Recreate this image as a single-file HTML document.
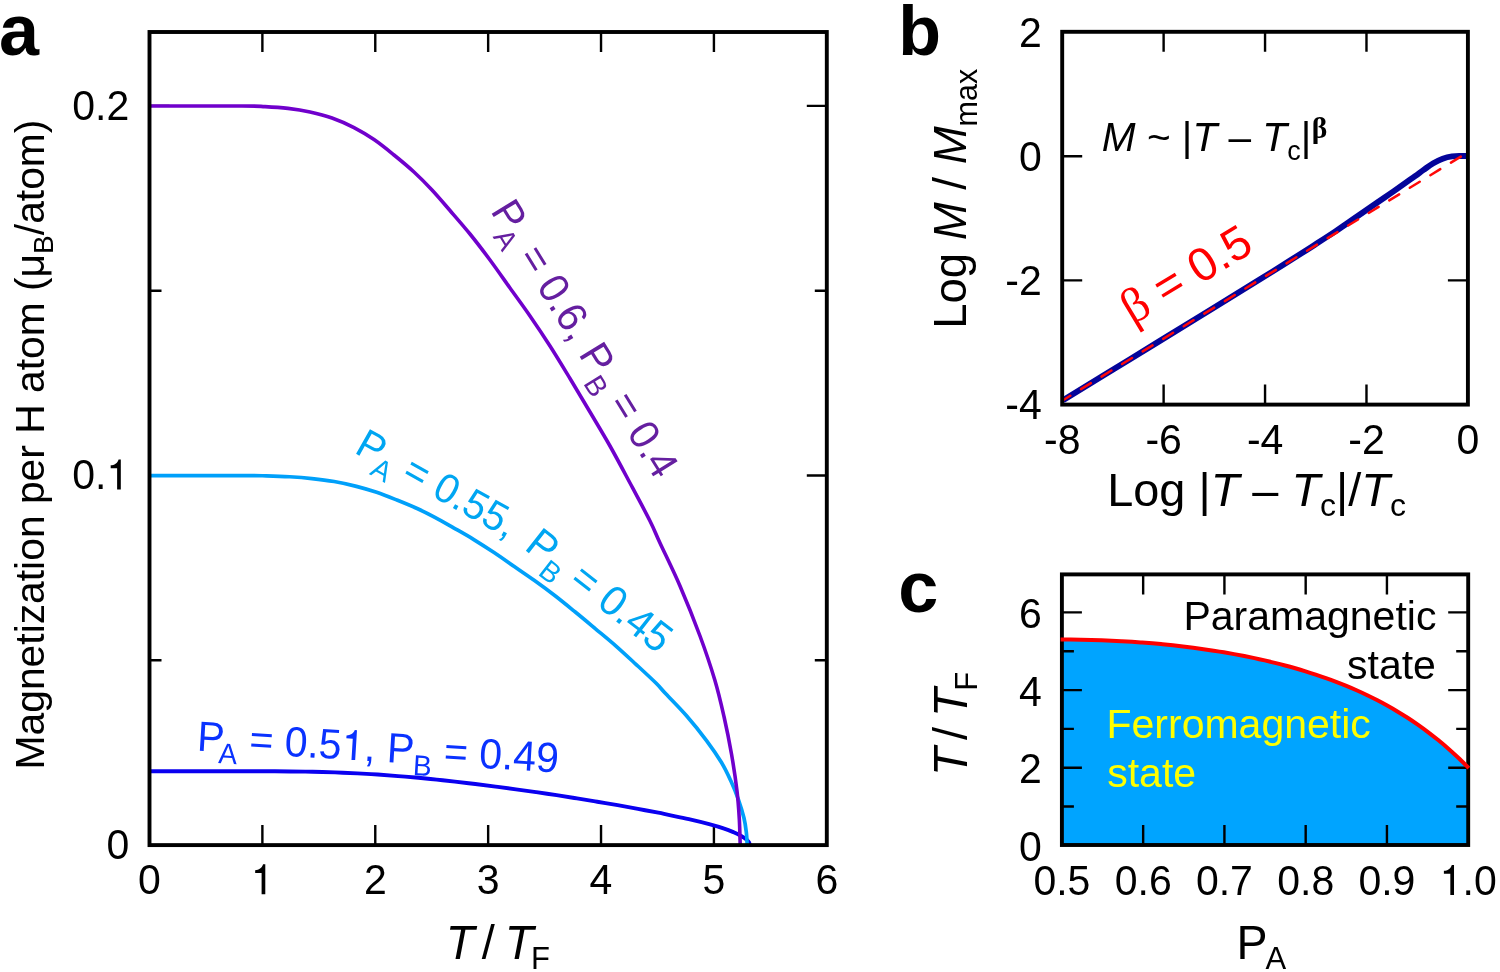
<!DOCTYPE html>
<html><head><meta charset="utf-8"><title>figure</title>
<style>html,body{margin:0;padding:0;background:#fff}svg{display:block;will-change:transform}text{font-family:"Liberation Sans",sans-serif;fill:#000}.it{font-style:italic}.b{font-weight:bold}.se{font-family:"Liberation Serif",serif}</style></head><body>
<svg width="1500" height="972" viewBox="0 0 1500 972">
<rect width="1500" height="972" fill="#fff"/>
<g id="pa">
<path d="M262.38 32.00 v20 M262.38 845.10 v-20 M375.27 32.00 v20 M375.27 845.10 v-20 M488.15 32.00 v20 M488.15 845.10 v-20 M601.03 32.00 v20 M601.03 845.10 v-20 M713.92 32.00 v20 M713.92 845.10 v-20 M149.50 660.30 h12 M826.80 660.30 h-12 M149.50 475.50 h20 M826.80 475.50 h-20 M149.50 290.70 h12 M826.80 290.70 h-12 M149.50 105.90 h20 M826.80 105.90 h-20" stroke="#000" stroke-width="2.4" fill="none"/>
<path d="M149.50 771.19 C165.17 771.19 223.97 771.18 243.53 771.19 C263.10 771.20 259.12 771.21 266.92 771.25 C274.71 771.29 282.67 771.34 290.30 771.43 C297.92 771.52 305.21 771.63 312.66 771.79 C320.12 771.95 327.57 772.13 335.03 772.39 C342.48 772.65 350.28 772.99 357.39 773.35 C364.51 773.71 370.95 774.09 377.72 774.55 C384.50 775.01 391.28 775.55 398.06 776.09 C404.83 776.63 411.95 777.21 418.39 777.79 C424.83 778.37 430.59 778.95 436.69 779.59 C442.79 780.23 448.55 780.91 454.99 781.64 C461.42 782.37 468.54 783.16 475.32 783.99 C482.09 784.82 488.87 785.69 495.65 786.59 C502.43 787.49 509.20 788.46 515.98 789.39 C522.76 790.32 529.54 791.22 536.31 792.19 C543.09 793.16 549.87 794.15 556.64 795.19 C563.42 796.23 570.20 797.34 576.98 798.44 C583.75 799.54 590.53 800.67 597.31 801.79 C604.09 802.92 610.86 804.01 617.64 805.19 C624.42 806.37 631.19 807.64 637.97 808.89 C644.75 810.14 653.22 811.69 658.30 812.69 C663.39 813.69 663.39 813.81 668.47 814.89 C673.55 815.97 682.02 817.64 688.80 819.19 C695.58 820.74 703.24 822.62 709.13 824.19 C715.03 825.76 720.10 827.24 724.18 828.59 C728.26 829.94 730.80 831.06 733.63 832.29 C736.46 833.52 738.97 834.76 741.16 835.99 C743.34 837.22 745.43 838.61 746.75 839.69 C748.07 840.77 748.54 841.59 749.09 842.49 C749.63 843.39 749.85 844.66 750.00 845.10" fill="none" stroke="#0a00f0" stroke-width="3.9" stroke-linejoin="round"/>
<path d="M149.50 475.55 C165.10 475.55 223.62 475.50 243.10 475.55 C262.57 475.60 258.61 475.65 266.37 475.85 C274.13 476.05 282.05 476.30 289.64 476.75 C297.23 477.20 304.48 477.75 311.90 478.55 C319.32 479.35 326.74 480.25 334.16 481.55 C341.58 482.85 349.34 484.55 356.42 486.35 C363.51 488.15 369.91 490.07 376.66 492.35 C383.41 494.63 390.15 497.35 396.90 500.05 C403.64 502.75 410.73 505.63 417.13 508.55 C423.54 511.47 429.28 514.34 435.35 517.55 C441.42 520.76 447.15 524.13 453.56 527.80 C459.97 531.47 467.05 535.42 473.80 539.55 C480.54 543.67 487.29 548.05 494.04 552.55 C500.78 557.05 507.53 561.88 514.27 566.55 C521.02 571.22 527.76 575.72 534.51 580.55 C541.25 585.38 548.00 590.34 554.75 595.55 C561.49 600.76 568.24 606.30 574.98 611.80 C581.73 617.30 588.47 622.93 595.22 628.55 C601.97 634.18 608.71 639.63 615.46 645.55 C622.20 651.47 628.95 657.80 635.69 664.05 C642.44 670.30 650.87 678.05 655.93 683.05 C660.99 688.05 660.99 688.63 666.05 694.05 C671.11 699.47 679.54 707.80 686.29 715.55 C693.03 723.30 700.65 732.72 706.52 740.55 C712.39 748.38 717.43 755.80 721.50 762.55 C725.56 769.30 728.09 774.88 730.91 781.05 C733.73 787.22 736.22 793.38 738.40 799.55 C740.57 805.72 742.65 812.63 743.96 818.05 C745.28 823.47 745.75 827.54 746.29 832.05 C746.83 836.56 747.05 842.92 747.20 845.10" fill="none" stroke="#00a0fa" stroke-width="3.7" stroke-linejoin="round"/>
<path d="M149.50 106.00 C164.92 106.00 222.75 105.90 242.00 106.00 C261.25 106.10 257.33 106.20 265.00 106.60 C272.67 107.00 280.50 107.50 288.00 108.40 C295.50 109.30 302.67 110.40 310.00 112.00 C317.33 113.60 324.67 115.40 332.00 118.00 C339.33 120.60 347.00 124.00 354.00 127.60 C361.00 131.20 367.33 135.03 374.00 139.60 C380.67 144.17 387.33 149.60 394.00 155.00 C400.67 160.40 407.67 166.17 414.00 172.00 C420.33 177.83 426.00 183.58 432.00 190.00 C438.00 196.42 443.67 203.17 450.00 210.50 C456.33 217.83 463.33 225.75 470.00 234.00 C476.67 242.25 483.33 251.00 490.00 260.00 C496.67 269.00 503.33 278.67 510.00 288.00 C516.67 297.33 523.33 306.33 530.00 316.00 C536.67 325.67 543.33 335.58 550.00 346.00 C556.67 356.42 563.33 367.50 570.00 378.50 C576.67 389.50 583.33 400.75 590.00 412.00 C596.67 423.25 603.33 434.17 610.00 446.00 C616.67 457.83 623.33 470.50 630.00 483.00 C636.67 495.50 645.00 511.00 650.00 521.00 C655.00 531.00 655.00 532.17 660.00 543.00 C665.00 553.83 673.33 570.50 680.00 586.00 C686.67 601.50 694.20 620.33 700.00 636.00 C705.80 651.67 710.78 666.50 714.80 680.00 C718.82 693.50 721.32 704.67 724.10 717.00 C726.88 729.33 729.35 741.67 731.50 754.00 C733.65 766.33 735.70 780.17 737.00 791.00 C738.30 801.83 738.77 810.00 739.30 819.00 C739.83 828.00 740.05 840.67 740.20 845.00" fill="none" stroke="#7000cc" stroke-width="3.6" stroke-linejoin="round"/>
<rect x="149.50" y="32.00" width="677.30" height="813.10" fill="none" stroke="#000" stroke-width="3.9"/>
<text transform="translate(149.5 894.3) scale(1 1.03)" font-size="41" text-anchor="middle">0</text>
<path transform="translate(250.99 894.30) scale(41.000 -42.230)" d="M0.349 0H0.259V0.502H0.102V0.571C0.19 0.575 0.27 0.62 0.295 0.709H0.349Z" fill="#000"/>
<text transform="translate(375.3 894.3) scale(1 1.03)" font-size="41" text-anchor="middle">2</text>
<text transform="translate(488.1 894.3) scale(1 1.03)" font-size="41" text-anchor="middle">3</text>
<text transform="translate(601.0 894.3) scale(1 1.03)" font-size="41" text-anchor="middle">4</text>
<text transform="translate(713.9 894.3) scale(1 1.03)" font-size="41" text-anchor="middle">5</text>
<text transform="translate(826.8 894.3) scale(1 1.03)" font-size="41" text-anchor="middle">6</text>
<text transform="translate(129.3 859.2) scale(1 1.03)" font-size="41" text-anchor="end">0</text>
<text transform="translate(72.31 489.4) scale(1 1.03)" font-size="41">0.</text>
<path transform="translate(106.50 489.40) scale(41.000 -42.230)" d="M0.349 0H0.259V0.502H0.102V0.571C0.19 0.575 0.27 0.62 0.295 0.709H0.349Z" fill="#000"/>
<text transform="translate(129.3 120.2) scale(1 1.03)" font-size="41" text-anchor="end">0.2</text>
<text transform="translate(43.8 444.5) rotate(-90)" font-size="40.8" text-anchor="middle">Magnetization per H atom (μ<tspan font-size="28" dy="9.5">B</tspan><tspan dy="-9.5">/atom)</tspan></text>
<g transform="translate(445.8 958.8) scale(1 1.04)"><text x="0" y="0" font-size="47" class="it">T</text><text x="36" y="0" font-size="47">/</text><text x="59" y="0" font-size="47" class="it">T</text><text x="85.3" y="9.8" font-size="31">F</text></g>
<text transform="translate(196.4 750.4) rotate(3.5) scale(1 1.03)" font-size="41" style="fill:#0a32ff"><tspan>P</tspan><tspan font-size="28" dy="11" dx="-5">A</tspan><tspan dy="-11"> = 0.5<tspan style="fill:none">1</tspan>, </tspan><tspan>P</tspan><tspan font-size="28" dy="11" dx="-0.5">B</tspan><tspan dy="-11"> = 0.49</tspan></text>
<g transform="translate(196.4 750.4) rotate(3.5)"><path transform="translate(144.75 0.00) scale(41.000 -42.230)" d="M0.349 0H0.259V0.502H0.102V0.571C0.19 0.575 0.27 0.62 0.295 0.709H0.349Z" fill="#0a32ff"/></g>
<text transform="translate(353.3 452.2) rotate(29.3) scale(1 1.03)" font-size="40" style="fill:#00a6f2"><tspan>P</tspan><tspan font-size="28" dy="11" dx="-2.5">A</tspan><tspan dy="-11"> = 0.55,</tspan></text>
<text transform="translate(523.2 548.7) rotate(38.1) scale(1 1.03)" font-size="41" style="fill:#00a6f2"><tspan>P</tspan><tspan font-size="28" dy="11" dx="-1">B</tspan><tspan dy="-11"> = 0.45</tspan></text>
<text transform="translate(490.0 211.1) rotate(58.4) scale(1 1.03)" font-size="40.5" style="fill:#651fa0"><tspan dx="0">P</tspan><tspan font-size="28" dy="11" dx="-4">A</tspan><tspan dy="-11"> = 0.6, </tspan><tspan dx="1.2">P</tspan><tspan font-size="28" dy="11" dx="0.4">B</tspan><tspan dy="-11"> = 0.4</tspan></text>
<text x="-1" y="54.8" font-size="72" class="b">a</text>
</g>
<g id="pb">
<path d="M1163.62 31.80 v20 M1163.62 404.60 v-20 M1265.05 31.80 v20 M1265.05 404.60 v-20 M1366.48 31.80 v20 M1366.48 404.60 v-20 M1062.20 156.30 h20 M1467.90 156.30 h-20 M1062.20 280.40 h20 M1467.90 280.40 h-20" stroke="#000" stroke-width="2.4" fill="none"/>
<path d="M1063.00 400.20 C1074.17 393.36 1107.17 373.15 1130.00 359.17 C1152.83 345.19 1178.33 329.60 1200.00 316.30 C1221.67 303.00 1245.00 288.64 1260.00 279.36 C1275.00 270.07 1281.17 266.16 1290.00 260.59 C1298.83 255.01 1305.50 250.73 1313.00 245.90 C1320.50 241.07 1328.33 236.06 1335.00 231.63 C1341.67 227.19 1345.95 224.15 1353.00 219.30 C1360.05 214.45 1370.13 207.46 1377.30 202.52 C1384.47 197.58 1389.77 194.04 1396.00 189.67 C1402.23 185.30 1410.03 179.66 1414.70 176.32 C1419.37 172.98 1420.90 171.79 1424.00 169.62 C1427.10 167.45 1430.18 165.12 1433.30 163.30 C1436.42 161.48 1439.58 159.85 1442.70 158.70 C1445.82 157.55 1448.90 156.84 1452.00 156.40 C1455.10 155.96 1458.97 156.11 1461.30 156.05 C1463.63 155.99 1465.22 156.05 1466.00 156.05" fill="none" stroke="#04049a" stroke-width="5.9" stroke-linejoin="round"/>
<path d="M1063 400.2 L1462 155.85" fill="none" stroke="#ff0808" stroke-width="2.5" stroke-linecap="round" stroke-dasharray="11.6 12.5" stroke-dashoffset="3"/>
<rect x="1062.20" y="31.80" width="405.70" height="372.80" fill="none" stroke="#000" stroke-width="3.9"/>
<text transform="translate(1062.2 454) scale(1 1.03)" font-size="41" text-anchor="middle">-8</text>
<text transform="translate(1163.6 454) scale(1 1.03)" font-size="41" text-anchor="middle">-6</text>
<text transform="translate(1265.1 454) scale(1 1.03)" font-size="41" text-anchor="middle">-4</text>
<text transform="translate(1366.5 454) scale(1 1.03)" font-size="41" text-anchor="middle">-2</text>
<text transform="translate(1467.9 454) scale(1 1.03)" font-size="41" text-anchor="middle">0</text>
<text transform="translate(1041.8 46.5) scale(1 1.03)" font-size="41" text-anchor="end">2</text>
<text transform="translate(1041.8 170.6) scale(1 1.03)" font-size="41" text-anchor="end">0</text>
<text transform="translate(1041.8 294.7) scale(1 1.03)" font-size="41" text-anchor="end">-2</text>
<text transform="translate(1041.8 418.8) scale(1 1.03)" font-size="41" text-anchor="end">-4</text>
<text transform="translate(966.4 198.8) rotate(-90)" font-size="45.5" text-anchor="middle">Log <tspan class="it">M</tspan> / <tspan class="it">M</tspan><tspan font-size="30.5" dy="11">max</tspan></text>
<text x="1107.2" y="505.5" font-size="46.9">Log |<tspan class="it">T</tspan> – <tspan class="it">T</tspan><tspan font-size="32" dy="10">c</tspan><tspan dy="-10">|/</tspan><tspan class="it">T</tspan><tspan font-size="32" dy="10">c</tspan></text>
<text x="1101.8" y="151.2" font-size="40.6"><tspan class="it">M</tspan> ~ |<tspan class="it">T</tspan> – <tspan class="it">T</tspan><tspan font-size="27" dy="9">c</tspan><tspan dy="-9">|</tspan><tspan class="se b" font-size="29.5" dy="-13" dx="0.5">β</tspan></text>
<text transform="translate(1132.7 325.3) rotate(-31.2)" font-size="47" style="fill:#ff0000"><tspan class="se" font-size="49">β</tspan> = 0.5</text>
<text x="898.3" y="54.6" font-size="70" class="b">b</text>
</g>
<g id="pc">
<path d="M1060.60 639.49 C1062.30 639.50 1067.40 639.50 1070.80 639.53 C1074.21 639.55 1077.61 639.60 1081.01 639.66 C1084.41 639.72 1087.81 639.79 1091.21 639.89 C1094.62 639.98 1098.02 640.09 1101.42 640.21 C1104.82 640.34 1108.22 640.48 1111.62 640.64 C1115.03 640.79 1118.43 640.97 1121.83 641.16 C1125.23 641.35 1128.63 641.56 1132.03 641.78 C1135.44 642.01 1138.84 642.25 1142.24 642.51 C1145.64 642.77 1149.04 643.05 1152.44 643.34 C1155.85 643.64 1159.25 643.95 1162.65 644.28 C1166.05 644.61 1169.45 644.96 1172.86 645.33 C1176.26 645.69 1179.66 646.08 1183.06 646.49 C1186.46 646.89 1189.86 647.32 1193.26 647.76 C1196.67 648.21 1200.07 648.67 1203.47 649.16 C1206.87 649.65 1210.27 650.15 1213.67 650.68 C1217.08 651.21 1220.48 651.76 1223.88 652.34 C1227.28 652.91 1230.68 653.51 1234.09 654.13 C1237.49 654.75 1240.89 655.40 1244.29 656.07 C1247.69 656.74 1251.09 657.44 1254.49 658.16 C1257.90 658.89 1261.30 659.64 1264.70 660.42 C1268.10 661.20 1271.50 662.01 1274.90 662.85 C1278.31 663.69 1281.71 664.56 1285.11 665.47 C1288.51 666.37 1291.91 667.31 1295.31 668.28 C1298.72 669.25 1302.12 670.26 1305.52 671.31 C1308.92 672.36 1312.32 673.44 1315.72 674.57 C1319.13 675.69 1322.53 676.86 1325.93 678.07 C1329.33 679.28 1332.73 680.54 1336.13 681.84 C1339.54 683.15 1342.94 684.49 1346.34 685.90 C1349.74 687.30 1353.14 688.76 1356.55 690.27 C1359.95 691.78 1363.35 693.35 1366.75 694.98 C1370.15 696.61 1373.55 698.29 1376.95 700.05 C1380.36 701.81 1383.76 703.63 1387.16 705.52 C1390.56 707.41 1393.96 709.38 1397.37 711.42 C1400.77 713.46 1404.17 715.58 1407.57 717.78 C1410.97 719.99 1414.37 722.27 1417.78 724.65 C1421.18 727.03 1424.58 729.49 1427.98 732.06 C1431.38 734.63 1434.78 737.30 1438.18 740.07 C1441.59 742.85 1444.99 745.72 1448.39 748.72 C1451.79 751.72 1455.19 754.82 1458.59 758.06 C1462.00 761.30 1467.10 766.47 1468.80 768.15 L1468.20 845.00 L1061.90 845.00 Z" fill="#00a4ff" stroke="none"/>
<path d="M1143.16 574.40 v20 M1143.16 845.00 v-20 M1224.42 574.40 v20 M1224.42 845.00 v-20 M1305.68 574.40 v20 M1305.68 845.00 v-20 M1386.94 574.40 v20 M1386.94 845.00 v-20 M1061.90 806.57 h12 M1468.20 806.57 h-12 M1061.90 767.74 h20 M1468.20 767.74 h-20 M1061.90 728.91 h12 M1468.20 728.91 h-12 M1061.90 690.08 h20 M1468.20 690.08 h-20 M1061.90 651.25 h12 M1468.20 651.25 h-12 M1061.90 612.42 h20 M1468.20 612.42 h-20" stroke="#000" stroke-width="2.4" fill="none"/>
<rect x="1061.90" y="574.40" width="406.30" height="270.60" fill="none" stroke="#000" stroke-width="3.9"/>
<path d="M1060.60 639.49 C1062.30 639.50 1067.40 639.50 1070.80 639.53 C1074.21 639.55 1077.61 639.60 1081.01 639.66 C1084.41 639.72 1087.81 639.79 1091.21 639.89 C1094.62 639.98 1098.02 640.09 1101.42 640.21 C1104.82 640.34 1108.22 640.48 1111.62 640.64 C1115.03 640.79 1118.43 640.97 1121.83 641.16 C1125.23 641.35 1128.63 641.56 1132.03 641.78 C1135.44 642.01 1138.84 642.25 1142.24 642.51 C1145.64 642.77 1149.04 643.05 1152.44 643.34 C1155.85 643.64 1159.25 643.95 1162.65 644.28 C1166.05 644.61 1169.45 644.96 1172.86 645.33 C1176.26 645.69 1179.66 646.08 1183.06 646.49 C1186.46 646.89 1189.86 647.32 1193.26 647.76 C1196.67 648.21 1200.07 648.67 1203.47 649.16 C1206.87 649.65 1210.27 650.15 1213.67 650.68 C1217.08 651.21 1220.48 651.76 1223.88 652.34 C1227.28 652.91 1230.68 653.51 1234.09 654.13 C1237.49 654.75 1240.89 655.40 1244.29 656.07 C1247.69 656.74 1251.09 657.44 1254.49 658.16 C1257.90 658.89 1261.30 659.64 1264.70 660.42 C1268.10 661.20 1271.50 662.01 1274.90 662.85 C1278.31 663.69 1281.71 664.56 1285.11 665.47 C1288.51 666.37 1291.91 667.31 1295.31 668.28 C1298.72 669.25 1302.12 670.26 1305.52 671.31 C1308.92 672.36 1312.32 673.44 1315.72 674.57 C1319.13 675.69 1322.53 676.86 1325.93 678.07 C1329.33 679.28 1332.73 680.54 1336.13 681.84 C1339.54 683.15 1342.94 684.49 1346.34 685.90 C1349.74 687.30 1353.14 688.76 1356.55 690.27 C1359.95 691.78 1363.35 693.35 1366.75 694.98 C1370.15 696.61 1373.55 698.29 1376.95 700.05 C1380.36 701.81 1383.76 703.63 1387.16 705.52 C1390.56 707.41 1393.96 709.38 1397.37 711.42 C1400.77 713.46 1404.17 715.58 1407.57 717.78 C1410.97 719.99 1414.37 722.27 1417.78 724.65 C1421.18 727.03 1424.58 729.49 1427.98 732.06 C1431.38 734.63 1434.78 737.30 1438.18 740.07 C1441.59 742.85 1444.99 745.72 1448.39 748.72 C1451.79 751.72 1455.19 754.82 1458.59 758.06 C1462.00 761.30 1467.10 766.47 1468.80 768.15" fill="none" stroke="#ff0000" stroke-width="4.0"/>
<text transform="translate(1061.9 894.9) scale(1 1.03)" font-size="41" text-anchor="middle">0.5</text>
<text transform="translate(1143.2 894.9) scale(1 1.03)" font-size="41" text-anchor="middle">0.6</text>
<text transform="translate(1224.4 894.9) scale(1 1.03)" font-size="41" text-anchor="middle">0.7</text>
<text transform="translate(1305.7 894.9) scale(1 1.03)" font-size="41" text-anchor="middle">0.8</text>
<text transform="translate(1386.9 894.9) scale(1 1.03)" font-size="41" text-anchor="middle">0.9</text>
<path transform="translate(1439.71 894.90) scale(41.000 -42.230)" d="M0.349 0H0.259V0.502H0.102V0.571C0.19 0.575 0.27 0.62 0.295 0.709H0.349Z" fill="#000"/>
<text transform="translate(1462.50 894.9) scale(1 1.03)" font-size="41">.0</text>
<text transform="translate(1041.8 860.9) scale(1 1.03)" font-size="41" text-anchor="end">0</text>
<text transform="translate(1041.8 783.2) scale(1 1.03)" font-size="41" text-anchor="end">2</text>
<text transform="translate(1041.8 705.6) scale(1 1.03)" font-size="41" text-anchor="end">4</text>
<text transform="translate(1041.8 627.9) scale(1 1.03)" font-size="41" text-anchor="end">6</text>
<text x="1436.4" y="629.8" font-size="41" text-anchor="end">Paramagnetic</text>
<text x="1435.9" y="678.5" font-size="41" text-anchor="end">state</text>
<text x="1106.5" y="738" font-size="41" style="fill:#ffff00">Ferromagnetic</text>
<text x="1107.2" y="786.6" font-size="41" style="fill:#ffff00">state</text>
<g transform="translate(966.9 776) rotate(-90) scale(1 1.04)"><text x="0" y="0" font-size="47" class="it">T</text><text x="36" y="0" font-size="47">/</text><text x="59" y="0" font-size="47" class="it">T</text><text x="85.3" y="9.8" font-size="31">F</text></g>
<text transform="translate(1236.6 958.6) scale(1 1.04)" font-size="46.5">P<tspan font-size="31" dy="9.7" dx="-2">A</tspan></text>
<text x="898.2" y="611.8" font-size="72" class="b">c</text>
</g>
</svg></body></html>
